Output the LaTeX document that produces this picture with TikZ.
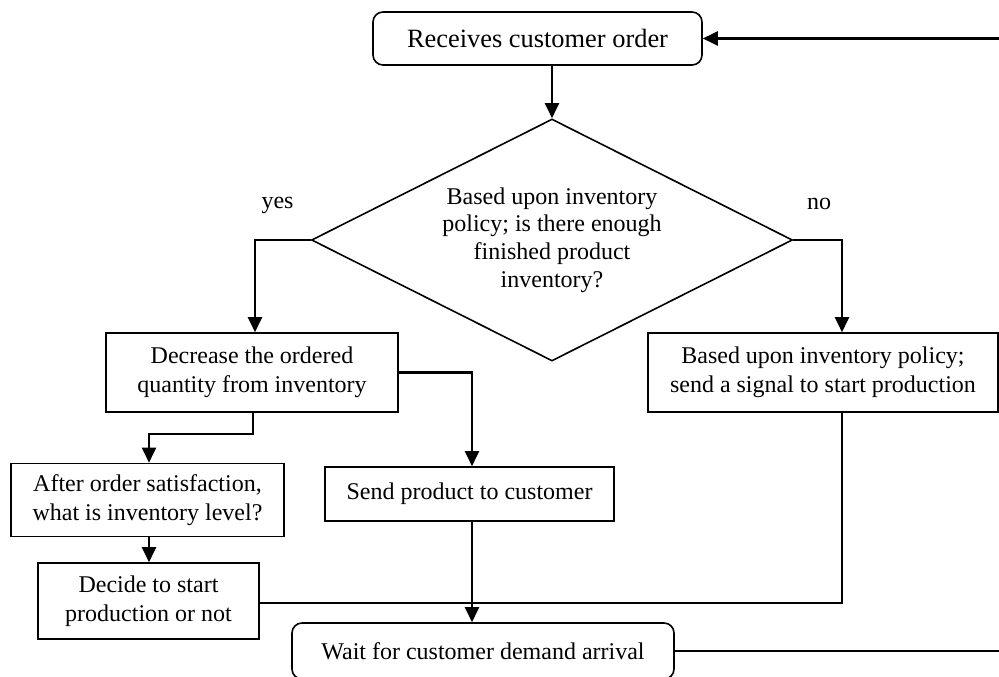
\documentclass[tikz,border=0pt]{standalone}
\usepackage{fontspec}
\setmainfont{Liberation Serif}
\usetikzlibrary{arrows.meta,shapes.geometric}
\begin{document}
\begin{tikzpicture}[x=1pt,y=-1pt,
  box/.style={draw,line width=1.6pt,rectangle,inner sep=0pt,align=center,
    font=\fontsize{24}{28.5}\selectfont},
  rbox/.style={box,rounded corners=10pt},
  arr/.style={line width=2.1pt,-{Triangle[length=15pt,width=14pt]}},
  plain/.style={line width=1.5pt},
  lbl/.style={inner sep=0pt,font=\fontsize{24}{28}\selectfont}]
\useasboundingbox (0,0) rectangle (999,677);

\node[rbox,minimum width=329pt,minimum height=53pt,font=\fontsize{26.4}{30}\selectfont] (recv) at (537.5,38.5) {Receives customer order};
\node[draw,line width=1.6pt,diamond,aspect=2,inner sep=0pt,minimum width=481pt,minimum height=242pt,align=center,
  font=\fontsize{24}{27.7}\selectfont] (dia) at (552,240)
  {Based upon inventory\\policy; is there enough\\finished product\\inventory?};
\node[box,minimum width=292pt,minimum height=79pt] (dec) at (252,372.5) {Decrease the ordered\\quantity from inventory};
\node[box,minimum width=350pt,minimum height=79pt] (based) at (823,372.5) {Based upon inventory policy;\\send a signal to start production};
\node[box,minimum width=273pt,minimum height=73pt] (after) at (147.5,500) {After order satisfaction,\\what is inventory level?};
\node[box,minimum width=221pt,minimum height=76pt] (decide) at (148.5,601) {Decide to start\\production or not};
\node[box,minimum width=289pt,minimum height=54pt] (send) at (469.5,494) {Send product to customer};
\node[rbox,minimum width=382pt,minimum height=56pt] (wait) at (483,651) {Wait for customer demand arrival};

\node[lbl] (yes) at (277.5,205) {yes};
\node[lbl] (no) at (819,204) {no};

\coordinate (rtop) at (1000,38.5);
\coordinate (rbot) at (1000,651);

\draw[arr] (recv.south -| dia.north) -- (dia.north);
\draw[arr] (rtop) -- (recv.east);
\draw[arr] (dia.west) -| ([xshift=3pt]dec.north);
\draw[arr] (dia.east) -| ([xshift=19pt]based.north);
\draw[arr] (dec.east) -| ([xshift=2.5pt]send.north);
\draw[arr] ([xshift=1pt]dec.south) -- ++(0,21) -| ([xshift=1.5pt]after.north);
\draw[arr] ([xshift=1.5pt]after.south) -- ([xshift=1.5pt]after.south |- decide.north);
\draw[arr] ([xshift=2.5pt]send.south) -- ([xshift=2.5pt]send.south |- wait.north);
\draw[plain] ([xshift=19pt]based.south) |- ([yshift=-2pt]decide.east);
\draw[plain] (wait.east) -- (rbot);
\end{tikzpicture}
\end{document}
